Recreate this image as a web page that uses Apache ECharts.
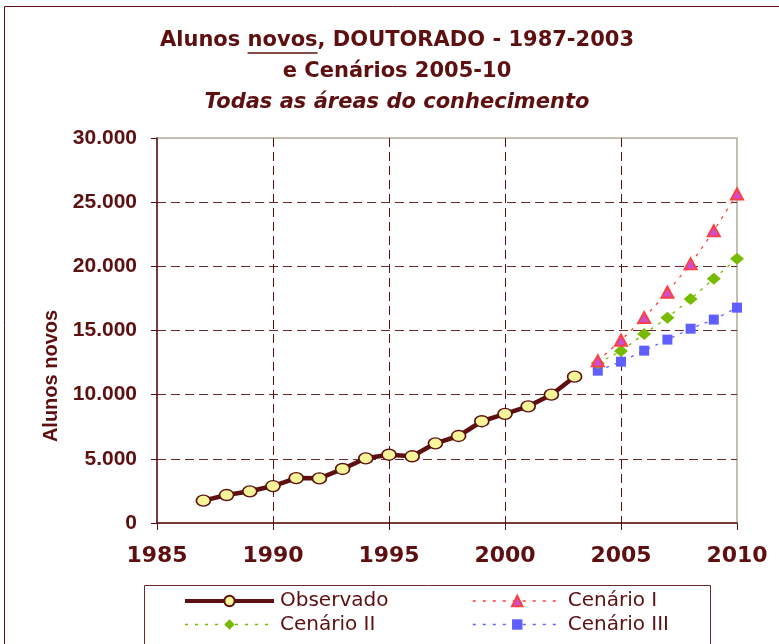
<!DOCTYPE html>
<html>
<head>
<meta charset="utf-8">
<script src="https://cdn.jsdelivr.net/npm/echarts@6/dist/echarts.min.js"></script>
<style>
html,body{margin:0;padding:0;background:#fff;}
#chart{width:779px;height:644px;}
</style>
</head>
<body>
<div id="chart"></div>
<script>
// ---- data ----
const obsYears = [1987,1988,1989,1990,1991,1992,1993,1994,1995,1996,1997,1998,1999,2000,2001,2002,2003];
const observado = [1740,2180,2470,2880,3500,3480,4210,5040,5320,5200,6210,6780,7930,8500,9090,10000,11400];
const scenYears = [2004,2005,2006,2007,2008,2009,2010];
const cenarioI   = [12630,14240,16000,17980,20190,22760,25640];
const cenarioII  = [12450,13400,14730,16000,17460,19040,20600];
const cenarioIII = [11870,12570,13430,14290,15140,15850,16780];
const yTickLabels = ['0','5.000','10.000','15.000','20.000','25.000','30.000'];
const xTickLabels = ['1985','1990','1995','2000','2005','2010'];
const seriesNames = ['Observado','Cenário I','Cenário II','Cenário III'];
const titleLine1 = 'Alunos novos, DOUTORADO - 1987-2003';
const titleLine2 = 'e Cenários 2005-10';
const titleLine3 = 'Todas as áreas do conhecimento';
const yAxisName = 'Alunos novos';

const MAROON = '#5e0f10';
const pair = (xs, ys) => xs.map((x, i) => [x, ys[i]]);

const chart = echarts.init(document.getElementById('chart'), null, {renderer: 'canvas'});

// underline position for "novos"
const titleCx = 397;
const titleFont = 'bold 21px "DejaVu Sans"';
const mc = document.createElement('canvas').getContext('2d');
mc.font = titleFont;
const fullW = mc.measureText(titleLine1).width;
const preW = mc.measureText('Alunos ').width;
const wordW = mc.measureText('novos').width;
const ulX0 = titleCx - fullW / 2 + preW;

const legendText = {fontFamily: 'DejaVu Sans', fontSize: 20, color: MAROON, lineHeight: 20, padding: [0,0,0,1]};

const option = {
  animation: false,
  backgroundColor: '#ffffff',
  textStyle: {fontFamily: 'DejaVu Sans'},
  grid: {
    left: 157, right: 42, top: 138, bottom: 121,
    show: true, borderColor: '#b3ab9b', borderWidth: 1.5, backgroundColor: '#ffffff'
  },
  xAxis: {
    type: 'value', min: 1985, max: 2010, interval: 5,
    axisLine: {show: true, lineStyle: {color: MAROON, width: 1.5}},
    axisTick: {show: true, length: 7, lineStyle: {color: MAROON, width: 1}},
    axisLabel: {
      margin: 22, color: MAROON, fontFamily: 'DejaVu Sans', fontWeight: 'bold', fontSize: 22,
      formatter: v => xTickLabels[Math.round((v - 1985) / 5)]
    },
    splitLine: {show: true, showMinLine: false, showMaxLine: false,
      lineStyle: {color: MAROON, width: 1, type: [9, 5]}}
  },
  yAxis: {
    type: 'value', min: 0, max: 30000, interval: 5000,
    axisLine: {show: true, lineStyle: {color: MAROON, width: 1.5}},
    axisTick: {show: true, length: 6, lineStyle: {color: MAROON, width: 1}},
    axisLabel: {
      margin: 20, color: MAROON, fontFamily: 'Liberation Sans', fontWeight: 'bold', fontSize: 21,
      formatter: v => yTickLabels[Math.round(v / 5000)]
    },
    splitLine: {show: true, showMinLine: false, showMaxLine: false,
      lineStyle: {color: '#6a2a2a', width: 1, type: [9, 5]}}
  },
  legend: [
    {
      data: [
        {name: seriesNames[0], lineStyle: {width: 4, color: MAROON}},
        {name: seriesNames[2], lineStyle: {width: 1.5, type: [3, 7]}}
      ],
      orient: 'vertical', left: 183, top: 591, padding: 0,
      itemWidth: 89, itemHeight: 13, itemGap: 3.5,
      textStyle: legendText
    },
    {
      data: [
        {name: seriesNames[1], lineStyle: {width: 1.5, type: [3, 7]}},
        {name: seriesNames[3], lineStyle: {width: 1.5, type: [3, 7]}}
      ],
      orient: 'vertical', left: 472, top: 591, padding: 0,
      itemWidth: 89, itemHeight: 13, itemGap: 3.5,
      textStyle: legendText
    }
  ],
  graphic: [
    {type: 'rect', silent: true, z: -10, shape: {x: 4.5, y: 6.5, width: 900, height: 900},
      style: {fill: 'none', stroke: MAROON, lineWidth: 1}},
    {type: 'rect', silent: true, shape: {x: 144.5, y: 585.5, width: 566, height: 120},
      style: {fill: 'none', stroke: '#6a2a2a', lineWidth: 1}},
    {type: 'text', silent: true, x: titleCx, y: 41,
      style: {text: titleLine1, font: titleFont, fill: MAROON, align: 'center', verticalAlign: 'middle'}},
    {type: 'line', silent: true, shape: {x1: ulX0, y1: 53, x2: ulX0 + wordW, y2: 53},
      style: {stroke: MAROON, lineWidth: 1.5}},
    {type: 'text', silent: true, x: titleCx, y: 72,
      style: {text: titleLine2, font: titleFont, fill: MAROON, align: 'center', verticalAlign: 'middle'}},
    {type: 'text', silent: true, x: titleCx, y: 103,
      style: {text: titleLine3, font: 'italic bold 21px "DejaVu Sans"', fill: MAROON, align: 'center', verticalAlign: 'middle'}},
    {type: 'text', silent: true, x: 51, y: 376, rotation: Math.PI / 2,
      style: {text: yAxisName, font: 'bold 20px "Liberation Sans"', fill: MAROON, align: 'center', verticalAlign: 'middle'}}
  ],
  series: [
    {
      name: seriesNames[0], type: 'line', data: pair(obsYears, observado), z: 5,
      symbol: 'circle', symbolSize: [14, 11],
      lineStyle: {color: MAROON, width: 4.5},
      itemStyle: {color: '#f6f59a', borderColor: MAROON, borderWidth: 1.5}
    },
    {
      name: seriesNames[1], type: 'line', data: pair(scenYears, cenarioI), z: 4,
      symbol: 'triangle', symbolSize: [12, 11],
      lineStyle: {color: '#ff3b3b', width: 1.3, type: [3, 6]},
      itemStyle: {color: '#c84fd6', borderColor: '#ff4040', borderWidth: 2}
    },
    {
      name: seriesNames[2], type: 'line', data: pair(scenYears, cenarioII), z: 3,
      symbol: 'diamond', symbolSize: [14, 12],
      lineStyle: {color: '#77bb00', width: 1.3, type: [3, 6]},
      itemStyle: {color: '#77bb00'}
    },
    {
      name: seriesNames[3], type: 'line', data: pair(scenYears, cenarioIII), z: 2,
      symbol: 'rect', symbolSize: 10,
      lineStyle: {color: '#6262ff', width: 1.3, type: [3, 6]},
      itemStyle: {color: '#5f5fff'}
    }
  ]
};
chart.setOption(option);
</script>
</body>
</html>
